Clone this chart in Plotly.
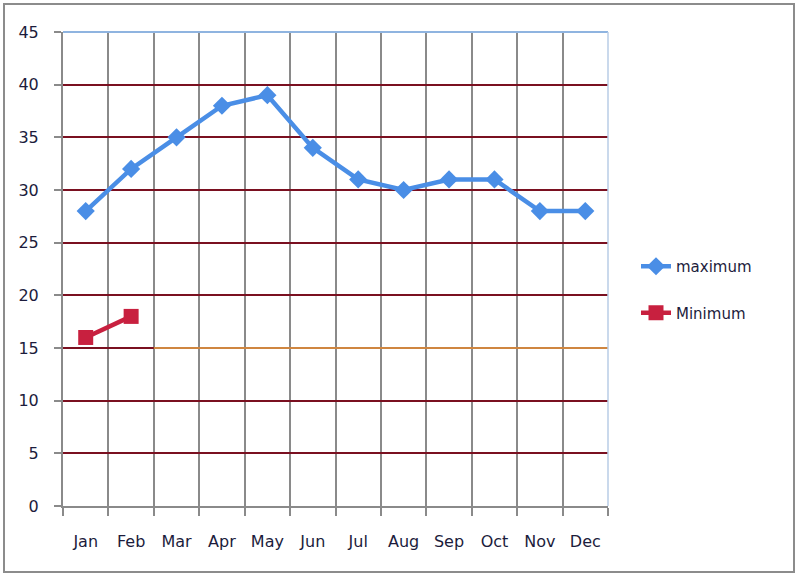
import plotly.graph_objects as go

months = ["Jan", "Feb", "Mar", "Apr", "May", "Jun", "Jul", "Aug", "Sep", "Oct", "Nov", "Dec"]
maximum = [28, 32, 35, 38, 39, 34, 31, 30, 31, 31, 28, 28]
minimum_months = ["Jan", "Feb"]
minimum = [16, 18]
y_ticks = [0, 5, 10, 15, 20, 25, 30, 35, 40, 45]

W, H = 798, 577
L, R, T, B = 63, 190, 32, 71
pw, ph = W - L - R, H - T - B

def px_x(p):
    return (p - L) / pw

def px_y(p):
    return (H - B - p) / ph

fig = go.Figure()
fig.add_trace(go.Scatter(
    x=months, y=maximum, name="maximum", mode="lines+markers",
    line=dict(color="#4a8ee6", width=4.5),
    marker=dict(symbol="diamond", size=14, color="#4a8ee6"),
    legendgroup="a",
))
fig.add_trace(go.Scatter(
    x=minimum_months, y=minimum, name="Minimum", mode="lines+markers",
    line=dict(color="#c8203f", width=4.5),
    marker=dict(symbol="square", size=15, color="#c8203f"),
    legendgroup="b",
))

font = dict(family="DejaVu Sans", size=16, color="#1c1c3c")

fig.update_layout(
    width=W, height=H,
    margin=dict(l=L, r=R, t=T, b=B),
    paper_bgcolor="white", plot_bgcolor="white",
    font=font,
    showlegend=True,
    legend=dict(x=px_x(636), y=px_y(250), xanchor="left", yanchor="top",
                font=dict(family="DejaVu Sans", size=15, color="#1c1c3c"),
                tracegroupgap=24, bgcolor="rgba(0,0,0,0)"),
    xaxis=dict(
        type="category", categoryorder="array", categoryarray=months,
        range=[-0.5, 11.5], tickson="boundaries",
        showgrid=True, gridcolor="#8a8a8a", gridwidth=2,
        showline=True, linecolor="#8a8a8a", linewidth=2,
        ticks="outside", ticklen=8, tickcolor="#8a8a8a", tickwidth=2,
        ticklabelstandoff=20,
        tickfont=font, fixedrange=True,
    ),
    yaxis=dict(
        range=[0, 45], tickvals=y_ticks, ticktext=[str(v) for v in y_ticks],
        showgrid=True, gridcolor="#7a1020", gridwidth=2,
        showline=True, linecolor="#8a8a8a", linewidth=2,
        ticks="outside", ticklen=7, tickcolor="#8a8a8a", tickwidth=2,
        ticklabelstandoff=12,
        tickfont=font, zeroline=False, fixedrange=True,
    ),
    shapes=[
        # orange segment of the 15 gridline
        dict(type="line", xref="x", yref="y", x0=1.5, x1=11.5, y0=15, y1=15,
             line=dict(color="#cf8640", width=2), layer="between"),
        # light blue top and right plot-area border
        dict(type="line", xref="paper", yref="paper", x0=0, x1=1, y0=1, y1=1,
             line=dict(color="#8fb4e0", width=2)),
        dict(type="line", xref="paper", yref="paper", x0=1, x1=1, y0=0, y1=1,
             line=dict(color="#b8cce6", width=1.5)),
        # outer chart frame
        dict(type="rect", xref="paper", yref="paper",
             x0=px_x(4), x1=px_x(794), y0=px_y(572), y1=px_y(4),
             line=dict(color="#8c8c8c", width=2)),
    ],
)

fig.write_html("out.html")
